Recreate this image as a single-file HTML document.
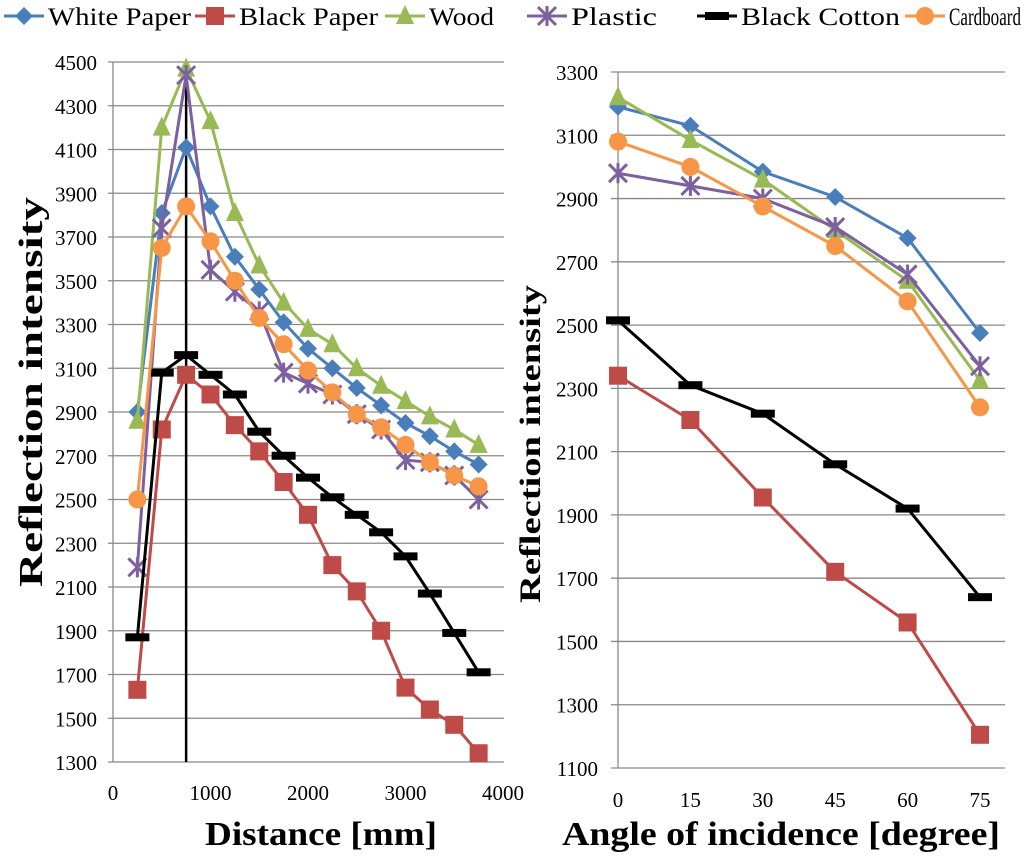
<!DOCTYPE html>
<html><head><meta charset="utf-8"><style>
body{margin:0;background:#fff;}
svg, svg text{font-family:"Liberation Serif","DejaVu Serif","Times New Roman",serif;}
</style></head><body>
<svg id="c" width="1024" height="859" xmlns="http://www.w3.org/2000/svg"></svg>
<script>
const seriesNames=["White Paper","Black Paper","Wood","Plastic","Black Cotton","Cardboard"];
const distances=[250,500,750,1000,1250,1500,1750,2000,2250,2500,2750,3000,3250,3500,3750];
const leftWhite=[2900,3810,4110,3840,3610,3460,3310,3190,3100,3010,2930,2850,2790,2720,2660];
const leftBlack=[1630,2820,3070,2980,2840,2720,2580,2430,2200,2080,1900,1640,1540,1470,1340];
const leftWood=[2860,4200,4470,4230,3810,3570,3400,3280,3210,3100,3020,2950,2880,2820,2750];
const leftPlastic=[2190,3740,4440,3550,3450,3360,3080,3030,2980,2890,2820,2680,2670,2610,2500];
const leftCotton=[1870,3080,3160,3070,2980,2810,2700,2600,2510,2430,2350,2240,2070,1890,1710];
const leftCard=[2500,3650,3840,3680,3500,3330,3210,3090,2990,2890,2830,2750,2670,2610,2560];
const angles=[0,15,30,45,60,75];
const rightWhite=[3190,3130,2985,2905,2775,2475];
const rightBlack=[2340,2200,1955,1720,1560,1205];
const rightWood=[3220,3085,2960,2800,2640,2325];
const rightPlastic=[2980,2940,2900,2810,2660,2370];
const rightCotton=[2515,2310,2220,2060,1920,1640];
const rightCard=[3080,3000,2875,2750,2575,2240];
const leftYTicks=[1300,1500,1700,1900,2100,2300,2500,2700,2900,3100,3300,3500,3700,3900,4100,4300,4500];
const leftXTicks=[0,1000,2000,3000,4000];
const rightYTicks=[1100,1300,1500,1700,1900,2100,2300,2500,2700,2900,3100,3300];
const peakLine=750;

const colors=["#4A7EBB","#BE4B48","#98B954","#7D60A0","#000000","#F79646"];
const markers=["diamond","square","triangle","star","dash","circle"];
const svg=document.getElementById('c');
const NS="http://www.w3.org/2000/svg";
function mk(t,a,p){const e=document.createElementNS(NS,t);for(const k in a)e.setAttribute(k,a[k]);(p||svg).appendChild(e);return e;}

const LX=v=>113+(v/4000)*390, LY=v=>762-(v-1300)/3200*700;
const RX=i=>618+i*72.4, RY=v=>768-(v-1100)/2200*696;

function marker(g,type,x,y,c){
  let e;
  if(type=="diamond")e=mk('polygon',{points:`${x},${y-9} ${x+9},${y} ${x},${y+9} ${x-9},${y}`,fill:c},g);
  else if(type=="square")e=mk('rect',{x:x-9,y:y-9,width:18,height:18,fill:c},g);
  else if(type=="triangle")e=mk('polygon',{points:`${x},${y-11} ${x+9},${y+8} ${x-9},${y+8}`,fill:c},g);
  else if(type=="circle")e=mk('circle',{cx:x,cy:y,r:9,fill:c},g);
  else if(type=="dash")e=mk('rect',{x:x-12,y:y-4,width:24,height:8,fill:c},g);
  else {e=mk('path',{d:`M${x-9},${y-9}L${x+9},${y+9}M${x+9},${y-9}L${x-9},${y+9}M${x},${y-10}L${x},${y+10}`,stroke:c,'stroke-width':3,fill:'none'},g);}
  
  
}
function series(xs,vals,fx,fy,idx,name){
  const g=mk('g',{});
  
  
  mk('polyline',{points:vals.map((v,i)=>fx(xs[i],i)+','+fy(v)).join(' '),fill:'none',stroke:colors[idx],'stroke-width':3},g);
  vals.forEach((v,i)=>marker(g,markers[idx],fx(xs[i],i),fy(v),colors[idx]));
}
function txt(x,y,s,opt){const t=mk('text',Object.assign({x:x,y:y,'font-size':21,fill:'#000'},opt||{}));t.textContent=s;return t;}

// left grid
leftYTicks.forEach(v=>{const l=mk('line',{x1:108,x2:504,y1:LY(v),y2:LY(v),stroke:'#888','stroke-width':1.3});

const t=txt(97,LY(v)+8,String(v),{'text-anchor':'end'});});
mk('line',{x1:113,x2:113,y1:62,y2:762,stroke:'#888','stroke-width':1.3});
leftXTicks.forEach(v=>{const t=txt(LX(v),800,String(v),{'text-anchor':'middle'});});
const pl=mk('line',{x1:LX(peakLine),x2:LX(peakLine),y1:LY(Math.max(...leftPlastic)),y2:762,stroke:'#000','stroke-width':2.5});

[leftWhite,leftBlack,leftWood,leftPlastic,leftCotton,leftCard].forEach((d,i)=>series(distances,d,v=>LX(v),LY,i,'left-series-'+i));

// right grid
rightYTicks.forEach(v=>{const l=mk('line',{x1:611,x2:1005,y1:RY(v),y2:RY(v),stroke:'#888','stroke-width':1.3});

const t=txt(598,RY(v)+8,String(v),{'text-anchor':'end'});});
mk('line',{x1:618,x2:618,y1:72,y2:768,stroke:'#888','stroke-width':1.3});
angles.forEach((a,i)=>{const t=txt(RX(i),807,String(a),{'text-anchor':'middle'});});
[rightWhite,rightBlack,rightWood,rightPlastic,rightCotton,rightCard].forEach((d,i)=>series(angles,d,(v,i)=>RX(i),RY,i,'right-series-'+i));

// titles
const fit={lengthAdjust:'spacingAndGlyphs'};
let t=txt(0,0,'Reflection intensity',Object.assign({'font-size':34,'font-weight':'bold','text-anchor':'middle',textLength:390,transform:'translate(42,392) rotate(-90)'},fit));

t=txt(0,0,'Reflection intensity',Object.assign({'font-size':30,'font-weight':'bold','text-anchor':'middle',textLength:318,transform:'translate(540,444) rotate(-90)'},fit));

t=txt(321,845,'Distance [mm]',Object.assign({'font-size':34,'font-weight':'bold','text-anchor':'middle',textLength:232},fit));

t=txt(781,845,'Angle of incidence [degree]',Object.assign({'font-size':34,'font-weight':'bold','text-anchor':'middle',textLength:438},fit));


// legend
const legX=[4,195,385,527,697,905];
const legLen=[143,139,65,86,159,72];
seriesNames.forEach((n,i)=>{
  const g=mk('g',{});
  
  
  mk('line',{x1:legX[i],x2:legX[i]+40,y1:16,y2:16,stroke:colors[i],'stroke-width':3},g);
  marker(g,markers[i],legX[i]+20,16,colors[i]);
  const tt=mk('text',{x:legX[i]+44,y:25,'font-size':25,fill:'#000',textLength:legLen[i],lengthAdjust:'spacingAndGlyphs'},g);tt.textContent=n;
});
</script>
</body></html>
